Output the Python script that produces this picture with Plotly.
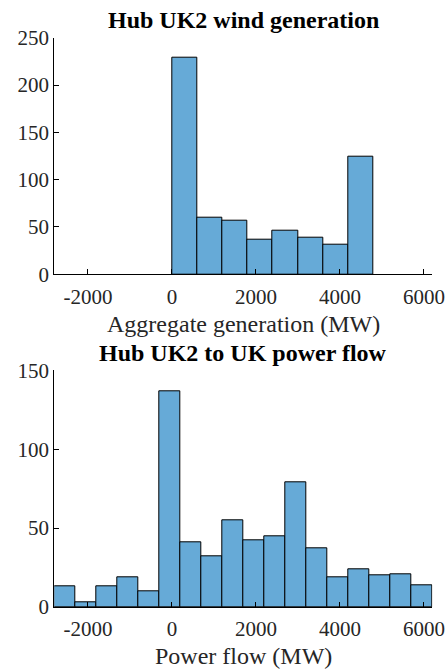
import plotly.graph_objects as go

# ---- Data ----
gen_edges = [0, 600, 1200, 1800, 2400, 3000, 3600, 4200, 4800]
gen_counts = [229, 60, 57, 37, 46, 39, 31, 124]

flow_edges = [-2800, -2300, -1800, -1300, -800, -300, 200, 700, 1200, 1700,
              2200, 2700, 3200, 3700, 4200, 4700, 5200, 5700, 6200]
flow_counts = [13, 3, 13, 19, 10, 137, 41, 32, 55, 42, 45, 79, 37, 19, 24, 20, 21, 14]

x_ticks = [-2000, 0, 2000, 4000, 6000]
x_ticklabels = ["-2000", "0", "2000", "4000", "6000"]
gen_yticks = [0, 50, 100, 150, 200, 250]
flow_yticks = [0, 50, 100, 150]

titles = ["Hub UK2 wind generation", "Hub UK2 to UK power flow"]
xlabels = ["Aggregate generation (MW)", "Power flow (MW)"]

W, H = 446, 669
FILL = "rgb(102,170,215)"
FONT = "Liberation Serif"
TICKCOL = "#262626"


def centers(edges):
    return [(a + b) / 2 for a, b in zip(edges[:-1], edges[1:])]


def widths(edges):
    return [b - a for a, b in zip(edges[:-1], edges[1:])]


fig = go.Figure()
fig.add_trace(go.Bar(x=centers(gen_edges), y=gen_counts, width=widths(gen_edges),
                     marker=dict(color=FILL, line=dict(color="black", width=1)),
                     xaxis="x", yaxis="y", showlegend=False))
fig.add_trace(go.Bar(x=centers(flow_edges), y=flow_counts, width=widths(flow_edges),
                     marker=dict(color=FILL, line=dict(color="black", width=1)),
                     xaxis="x2", yaxis="y2", showlegend=False))

xl, xr = 54.3 / W, 432.3 / W


def yd(top_px, bot_px):
    return [(H - bot_px) / H, (H - top_px) / H]


axis_common = dict(showline=True, linecolor="black", linewidth=1, ticks="inside",
                   ticklen=5, tickwidth=1, tickcolor="black", showgrid=False,
                   zeroline=False, automargin=False,
                   tickfont=dict(family=FONT, size=21, color=TICKCOL))

fig.update_layout(
    width=W, height=H, margin=dict(l=0, r=0, t=0, b=0),
    plot_bgcolor="white", paper_bgcolor="white", bargap=0,
    xaxis=dict(domain=[xl, xr], range=[-2800, 6200], tickvals=x_ticks, ticktext=x_ticklabels,
               anchor="y", ticklabelstandoff=3, **axis_common),
    yaxis=dict(domain=yd(37.7, 274.3), range=[0, 250], tickvals=gen_yticks, anchor="x", **axis_common),
    xaxis2=dict(domain=[xl, xr], range=[-2800, 6200], tickvals=x_ticks, ticktext=x_ticklabels,
                anchor="y2", ticklabelstandoff=3, **axis_common),
    yaxis2=dict(domain=yd(370.3, 607), range=[0, 150], tickvals=flow_yticks, anchor="x2", **axis_common),
)

cx = (xl + xr) / 2
ann = [
    (titles[0], 20, True),
    (xlabels[0], 324, False),
    (titles[1], 353, True),
    (xlabels[1], 656, False),
]
for text, ymid, bold in ann:
    fig.add_annotation(text=f"<b>{text}</b>" if bold else text, xref="paper", yref="paper",
                       x=cx, y=(H - ymid) / H, xanchor="center", yanchor="middle",
                       showarrow=False,
                       font=dict(family=FONT, size=24, color="black" if bold else TICKCOL))

fig.write_html("out.html")
